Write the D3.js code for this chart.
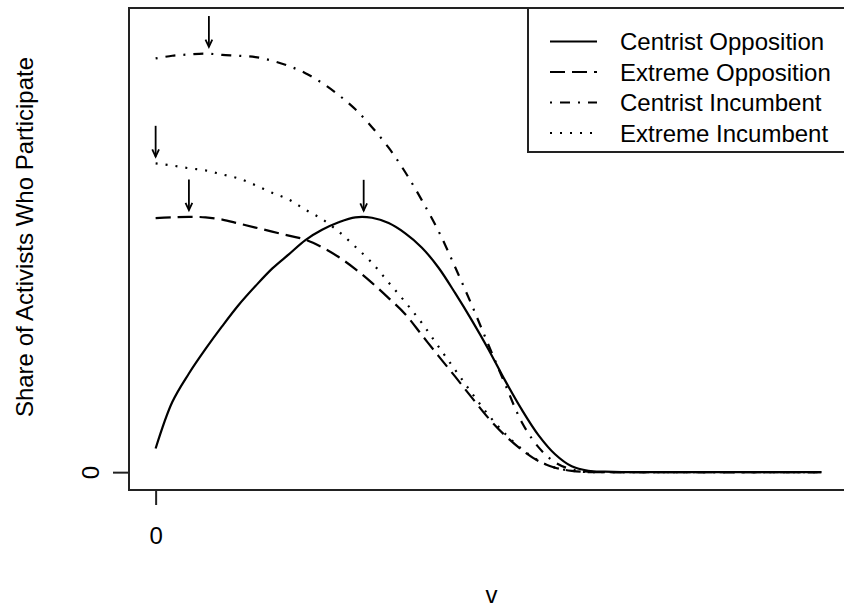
<!DOCTYPE html>
<html>
<head>
<meta charset="utf-8">
<script src="https://cdn.jsdelivr.net/npm/d3@7/dist/d3.min.js"></script>
<style>
  body { margin: 0; background: #fff; }
  svg { display: block; }
  text { font-family: "Liberation Sans", Arial, Helvetica, sans-serif; font-size: 24px; fill: #000; }
</style>
</head>
<body>
<svg id="chart" width="844" height="608"></svg>
<script>
// Sampled ideology position v
const v = [0, 0.025, 0.05, 0.075, 0.1, 0.125, 0.15, 0.175, 0.2, 0.225, 0.25, 0.275,
           0.3, 0.325, 0.35, 0.375, 0.4, 0.425, 0.45, 0.475, 0.5, 0.525, 0.55, 0.575,
           0.6, 0.625, 0.65, 0.675, 0.7, 0.8, 0.9, 1.0];

// Share of activists who participate, per party type
const centristOpposition = [0.053, 0.157, 0.221, 0.276, 0.327, 0.375, 0.417, 0.456, 0.488, 0.520,
  0.543, 0.560, 0.571, 0.570, 0.558, 0.535, 0.503, 0.458, 0.401, 0.340, 0.275, 0.205, 0.140,
  0.083, 0.040, 0.013, 0.003, 0.001, 0, 0, 0, 0];
const extremeOpposition = [0.569, 0.571, 0.572, 0.571, 0.566, 0.557, 0.548, 0.539, 0.530, 0.521,
  0.504, 0.482, 0.455, 0.424, 0.390, 0.354, 0.307, 0.260, 0.214, 0.167, 0.121, 0.082, 0.050,
  0.025, 0.010, 0.003, 0, 0, 0, 0, 0, 0];
const centristIncumbent = [0.927, 0.933, 0.936, 0.938, 0.935, 0.933, 0.930, 0.922, 0.910, 0.894,
  0.872, 0.845, 0.813, 0.773, 0.727, 0.672, 0.609, 0.540, 0.459, 0.374, 0.285, 0.197, 0.112,
  0.056, 0.022, 0.006, 0.001, 0, 0, 0, 0, 0];
const extremeIncumbent = [0.692, 0.687, 0.681, 0.676, 0.667, 0.658, 0.643, 0.626, 0.611, 0.588,
  0.567, 0.539, 0.505, 0.469, 0.425, 0.381, 0.334, 0.281, 0.229, 0.177, 0.128, 0.086, 0.052,
  0.026, 0.010, 0.003, 0, 0, 0, 0, 0, 0];

const seriesNames = ["Centrist Opposition", "Extreme Opposition", "Centrist Incumbent", "Extreme Incumbent"];
// v at which each series peaks (arrow positions)
const peakV = [0.3125, 0.05, 0.08, 0];

const xTicks = [0];
const yTicks = [0];
const xLabel = "v";
const yLabel = "Share of Activists Who Participate";

const seriesValues = [centristOpposition, extremeOpposition, centristIncumbent, extremeIncumbent];
const dashes = [null, "15,7", "2,8,10,8", "2,8"];

const svg = d3.select("#chart");
const plot = { left: 129, top: 8, right: 848, bottom: 490 };

const x = d3.scaleLinear().domain([-0.04, 1.04]).range([plot.left, plot.right]);
const y = d3.scaleLinear().domain([-0.04, 1.04]).range([plot.bottom, plot.top]);

// curves
const line = d3.line()
  .x(d => x(d[0]))
  .y(d => y(Math.max(0, d[1])))
  .curve(d3.curveCatmullRom.alpha(0.5));

seriesValues.forEach((vals, i) => {
  svg.append("path")
    .datum(v.map((vv, k) => [vv, vals[k]]))
    .attr("d", line)
    .attr("fill", "none")
    .attr("stroke", "#000")
    .attr("stroke-width", 2.2)
    .attr("stroke-dasharray", dashes[i]);
});

// arrows marking each curve's maximum
const arrowTop = 0.084, arrowGap = 0.015;
const headLen = 8, headAng = 25 * Math.PI / 180;
seriesValues.forEach((vals, i) => {
  const peak = d3.max(vals);
  const ax = x(peakV[i]);
  const y0 = y(peak + arrowTop), y1 = y(peak + arrowGap);
  const g = svg.append("g").attr("stroke", "#000").attr("stroke-width", 1.8).attr("fill", "none");
  g.append("line").attr("x1", ax).attr("x2", ax).attr("y1", y0).attr("y2", y1);
  g.append("path").attr("d",
    `M${ax - headLen * Math.sin(headAng)},${y1 - headLen * Math.cos(headAng)}L${ax},${y1}` +
    `L${ax + headLen * Math.sin(headAng)},${y1 - headLen * Math.cos(headAng)}`);
});

// plot frame
svg.append("rect")
  .attr("x", plot.left).attr("y", plot.top)
  .attr("width", plot.right - plot.left).attr("height", plot.bottom - plot.top)
  .attr("fill", "none").attr("stroke", "#222").attr("stroke-width", 2);

// x axis
const xAxis = d3.axisBottom(x).tickValues(xTicks).tickSize(15).tickPadding(22).tickFormat(d3.format("d"));
const gx = svg.append("g").attr("transform", `translate(0,${plot.bottom})`).call(xAxis);
gx.select(".domain").remove();
gx.selectAll(".tick line").attr("stroke", "#222").attr("stroke-width", 2);
gx.selectAll(".tick text").attr("font-size", 24).attr("font-family", null).style("fill", "#000");

// y axis
const yAxis = d3.axisLeft(y).tickValues(yTicks).tickSize(16).tickPadding(0).tickFormat(d3.format("d"));
const gy = svg.append("g").attr("transform", `translate(${plot.left},0)`).call(yAxis);
gy.select(".domain").remove();
gy.selectAll(".tick line").attr("stroke", "#222").attr("stroke-width", 2);
gy.selectAll(".tick text")
  .attr("font-size", 24).attr("font-family", null).style("fill", "#000")
  .attr("x", null).attr("dy", null)
  .attr("text-anchor", "middle").attr("dominant-baseline", "central")
  .attr("transform", "translate(-38.5,0) rotate(-90)");

// axis titles
svg.append("text")
  .attr("x", 491.5).attr("y", 603)
  .attr("text-anchor", "middle")
  .text(xLabel);
svg.append("text")
  .attr("transform", "translate(33,237) rotate(-90)")
  .attr("text-anchor", "middle")
  .text(yLabel);

// legend
const legend = svg.append("g");
legend.append("rect")
  .attr("x", 528).attr("y", plot.top)
  .attr("width", 330).attr("height", 152 - plot.top)
  .attr("fill", "#fff").attr("stroke", "#222").attr("stroke-width", 2);
seriesNames.forEach((name, i) => {
  const ly = 41.5 + i * 30.5;
  legend.append("line")
    .attr("x1", 550).attr("x2", 597).attr("y1", ly).attr("y2", ly)
    .attr("stroke", "#000").attr("stroke-width", 2.2)
    .attr("stroke-dasharray", dashes[i]);
  legend.append("text")
    .attr("x", 620).attr("y", ly)
    .attr("dominant-baseline", "central")
    .attr("font-size", 25)
    .text(name);
});
</script>
</body>
</html>
